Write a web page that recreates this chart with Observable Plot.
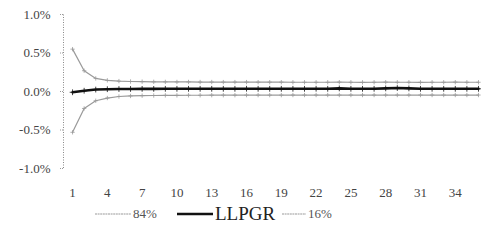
<!DOCTYPE html>
<html><head><meta charset="utf-8">
<script src="https://cdn.jsdelivr.net/npm/d3@7"></script>
<script src="https://cdn.jsdelivr.net/npm/@observablehq/plot@0.6"></script>
<style>
body{margin:0;background:#fff;font-family:"Liberation Serif",serif;}
svg text{font-family:"Liberation Serif",serif !important;}
#legend{position:relative;height:38px;color:#444;}
.item{position:absolute;top:-3px;display:flex;align-items:center;height:24px;}
.sw{display:inline-block;margin-right:2px;}
</style></head><body>
<div id="chart"></div>
<div id="legend"></div>
<script>
const periods = d3.range(1, 37);
const p84 = [0.55,0.27,0.17,0.145,0.135,0.13,0.128,0.126,0.125,0.124,0.124,0.123,0.123,0.122,0.122,0.122,0.121,0.121,0.121,0.12,0.12,0.12,0.12,0.121,0.12,0.119,0.12,0.121,0.12,0.12,0.119,0.12,0.12,0.121,0.12,0.12];
const llpgr = [-0.01,0.01,0.025,0.03,0.032,0.033,0.034,0.034,0.035,0.035,0.035,0.035,0.035,0.035,0.035,0.036,0.035,0.035,0.035,0.035,0.035,0.036,0.035,0.04,0.035,0.035,0.035,0.04,0.045,0.04,0.035,0.035,0.035,0.035,0.035,0.035];
const p16 = [-0.53,-0.22,-0.12,-0.085,-0.065,-0.058,-0.054,-0.052,-0.05,-0.05,-0.049,-0.049,-0.048,-0.048,-0.048,-0.047,-0.047,-0.047,-0.047,-0.046,-0.046,-0.046,-0.046,-0.046,-0.046,-0.046,-0.046,-0.046,-0.046,-0.046,-0.046,-0.046,-0.046,-0.046,-0.046,-0.046];
const yTicks = [1.0, 0.5, 0.0, -0.5, -1.0];
const xTicks = d3.range(1, 37, 3);
const seriesNames = ["84%", "LLPGR", "16%"];
const seriesColors = ["#9a9a9a", "#111111", "#9a9a9a"];
const seriesWidths = [1.2, 2.6, 1.2];

const all = [p84, llpgr, p16];
const data = [];
all.forEach((arr, s) => arr.forEach((v, i) => data.push({series: seriesNames[s], x: periods[i], y: v})));

const marks = [
  Plot.ruleX([0.22], {y1: -1, y2: 1, stroke: "#888", strokeDasharray: "1,1.5"}),
  Plot.axisY({ticks: yTicks, label: null, tickFormat: d => (d < 0 ? "-" : "") + Math.abs(d).toFixed(1) + "%", tickSize: 4, tickPadding: 9, stroke: "#999", strokeDasharray: "1,1", fontSize: 13, fill: "#444"}),
  Plot.axisX({ticks: xTicks, label: null, tickSize: 0, tickPadding: 19, fontSize: 13, fill: "#444"})
];
seriesNames.forEach((name, s) => {
  const d = data.filter(r => r.series === name);
  marks.push(Plot.line(d, {x: "x", y: "y", stroke: seriesColors[s], strokeWidth: seriesWidths[s]}));
  marks.push(Plot.dot(d, {x: "x", y: "y", symbol: "plus", r: s === 1 ? 2 : 1.5, stroke: seriesColors[s], strokeWidth: 0.8}));
});

const chart = Plot.plot({
  width: 481, height: 205,
  marginLeft: 63, marginRight: 0, marginTop: 14, marginBottom: 37,
  style: {fontFamily: "Liberation Serif, serif", background: "#fff"},
  x: {type: "linear", domain: [0.22, 36.26]},
  y: {domain: [-1, 1]},
  marks
});
document.getElementById("chart").appendChild(chart);

const legend = document.getElementById("legend");
const lefts = [95, 177, 282];
const widths = [36, 36, 24];
seriesNames.forEach((name, s) => {
  const it = document.createElement("div"); it.className = "item";
  it.style.left = lefts[s] + "px";
  const w = widths[s];
  it.innerHTML = `<svg class="sw" width="${w}" height="8"><line x1="0" x2="${w}" y1="4" y2="4" stroke="${seriesColors[s]}" stroke-width="${seriesWidths[s]}" ${s===1?'':'stroke-dasharray="2,0.6"'}/></svg><span style="font-size:${s===1?19:13}px;color:${s===1?'#222':'#555'}">${name}</span>`;
  legend.appendChild(it);
});
</script>
</body></html>
